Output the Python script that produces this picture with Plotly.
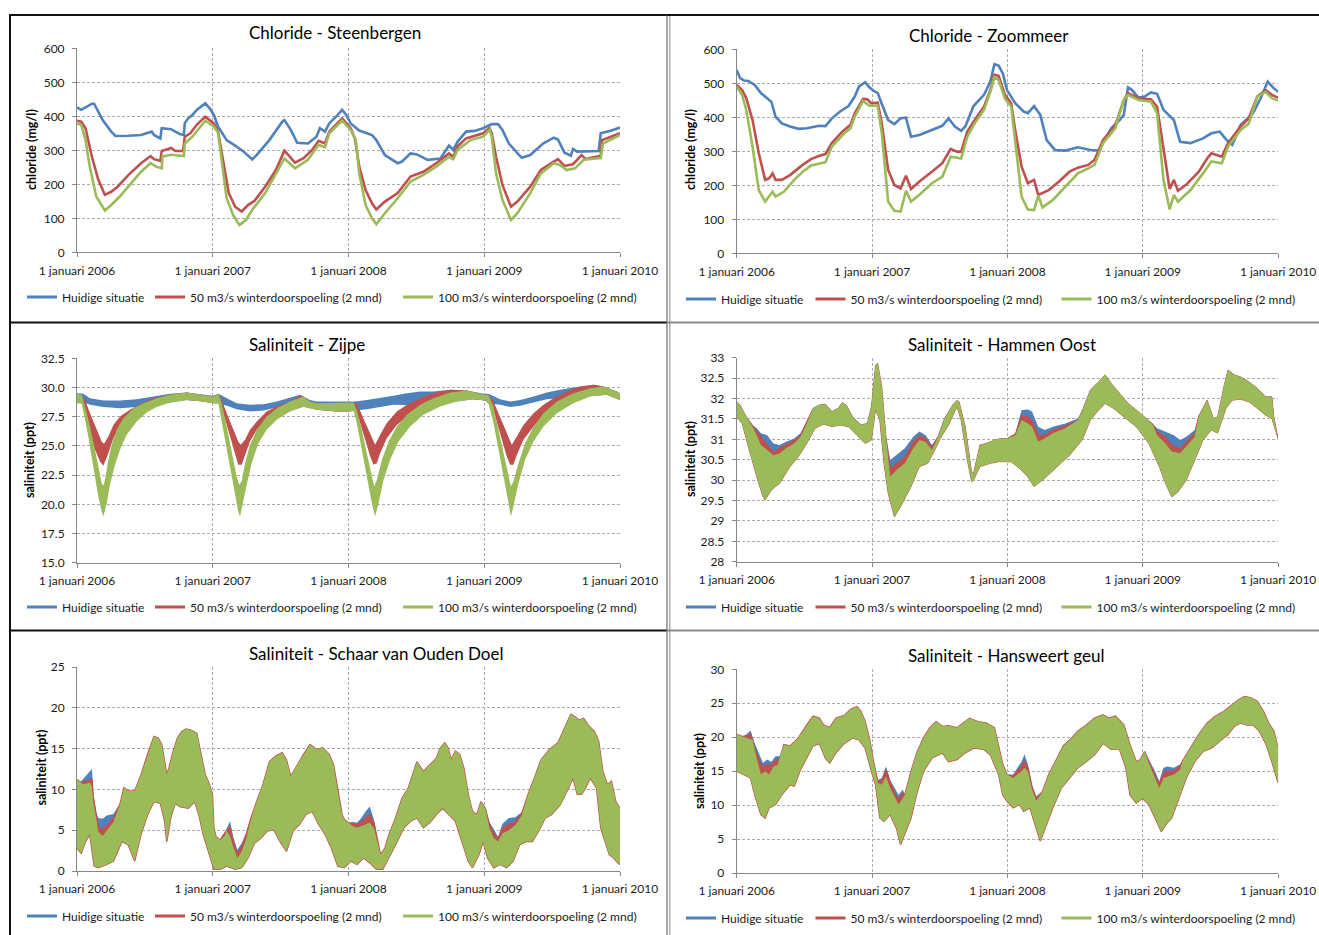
import plotly.graph_objects as go

W, H = 1319, 935
BLUE, RED, GREEN = "#4F81BD", "#C0504D", "#9BBB59"
FONT = "Lato, 'Open Sans', sans-serif"

SERIES_NAMES = ["Huidige situatie",
                "50 m3/s winterdoorspoeling (2 mnd)",
                "100 m3/s winterdoorspoeling (2 mnd)"]
YEAR_TICKS = [2006, 2007, 2008, 2009, 2010]
YEAR_LABELS = ["1 januari 2006", "1 januari 2007", "1 januari 2008",
               "1 januari 2009", "1 januari 2010"]

# ---------------- Chloride - Steenbergen (mg/l) [year, value] ----------------
ST_BLUE = [[2006.000, 426], [2006.031, 419], [2006.063, 426], [2006.110, 437], [2006.126, 437],
           [2006.189, 389], [2006.252, 355], [2006.283, 342], [2006.378, 343], [2006.472, 345],
           [2006.535, 353], [2006.551, 355], [2006.567, 345], [2006.614, 335], [2006.624, 365],
           [2006.693, 362], [2006.724, 355], [2006.756, 348], [2006.787, 345], [2006.794, 380],
           [2006.819, 394], [2006.850, 404], [2006.882, 419], [2006.945, 438], [2006.976, 424],
           [2007.008, 404], [2007.039, 370], [2007.102, 330], [2007.165, 314], [2007.228, 296],
           [2007.291, 273], [2007.323, 286], [2007.417, 330], [2007.512, 384], [2007.528, 389],
           [2007.575, 360], [2007.622, 322], [2007.701, 320], [2007.764, 340], [2007.789, 365],
           [2007.827, 355], [2007.858, 379], [2007.921, 404], [2007.953, 419], [2007.984, 404],
           [2008.016, 379], [2008.079, 358], [2008.173, 345], [2008.205, 330], [2008.268, 286],
           [2008.362, 262], [2008.394, 267], [2008.457, 291], [2008.504, 288], [2008.583, 272],
           [2008.677, 276], [2008.740, 314], [2008.772, 301], [2008.803, 325], [2008.866, 355],
           [2008.929, 357], [2008.992, 365], [2009.055, 377], [2009.102, 377], [2009.134, 360],
           [2009.181, 320], [2009.276, 278], [2009.339, 286], [2009.433, 320], [2009.512, 337],
           [2009.543, 332], [2009.591, 293], [2009.638, 284], [2009.654, 304], [2009.685, 296],
           [2009.843, 298], [2009.858, 350], [2009.937, 358], [2010.000, 367]]
ST_RED = [[2006.000, 387], [2006.031, 384], [2006.063, 365], [2006.110, 281], [2006.157, 213],
          [2006.205, 169], [2006.252, 178], [2006.299, 193], [2006.378, 227], [2006.472, 262],
          [2006.542, 283], [2006.567, 274], [2006.614, 269], [2006.624, 298], [2006.693, 307],
          [2006.724, 298], [2006.781, 298], [2006.794, 340], [2006.835, 350], [2006.882, 375],
          [2006.945, 399], [2007.008, 379], [2007.039, 355], [2007.071, 281], [2007.118, 174],
          [2007.165, 134], [2007.213, 120], [2007.260, 139], [2007.307, 151], [2007.386, 193],
          [2007.465, 242], [2007.528, 299], [2007.606, 264], [2007.669, 277], [2007.732, 301],
          [2007.780, 328], [2007.827, 320], [2007.858, 355], [2007.953, 394], [2008.016, 365],
          [2008.047, 335], [2008.079, 252], [2008.126, 183], [2008.173, 144], [2008.205, 126],
          [2008.268, 149], [2008.362, 174], [2008.457, 223], [2008.551, 237], [2008.646, 262],
          [2008.740, 291], [2008.772, 281], [2008.803, 311], [2008.866, 335], [2008.929, 343],
          [2008.992, 350], [2009.039, 365], [2009.055, 350], [2009.087, 281], [2009.134, 198],
          [2009.197, 134], [2009.244, 149], [2009.339, 193], [2009.417, 242], [2009.512, 267],
          [2009.543, 274], [2009.591, 254], [2009.654, 259], [2009.717, 286], [2009.748, 274],
          [2009.858, 284], [2009.868, 330], [2010.000, 350]]
ST_GREEN = [[2006.000, 379], [2006.031, 375], [2006.063, 330], [2006.094, 252], [2006.142, 164],
            [2006.205, 123], [2006.252, 139], [2006.315, 164], [2006.409, 208], [2006.472, 237],
            [2006.542, 262], [2006.583, 252], [2006.624, 247], [2006.630, 282], [2006.693, 287],
            [2006.787, 283], [2006.794, 320], [2006.850, 340], [2006.945, 387], [2007.008, 370],
            [2007.039, 352], [2007.071, 252], [2007.102, 159], [2007.150, 110], [2007.197, 80],
            [2007.244, 95], [2007.291, 125], [2007.386, 174], [2007.449, 218], [2007.528, 276],
            [2007.606, 247], [2007.701, 272], [2007.780, 316], [2007.827, 309], [2007.858, 350],
            [2007.953, 387], [2008.016, 360], [2008.054, 330], [2008.079, 232], [2008.126, 139],
            [2008.173, 100], [2008.205, 83], [2008.268, 115], [2008.362, 159], [2008.457, 208],
            [2008.551, 228], [2008.646, 252], [2008.740, 281], [2008.772, 274], [2008.803, 301],
            [2008.898, 330], [2008.992, 340], [2009.039, 360], [2009.055, 340], [2009.087, 232],
            [2009.134, 154], [2009.197, 95], [2009.244, 115], [2009.339, 174], [2009.417, 232],
            [2009.512, 262], [2009.559, 257], [2009.606, 242], [2009.669, 247], [2009.732, 272],
            [2009.858, 277], [2009.874, 320], [2010.000, 345]]

# ---------------- Chloride - Zoommeer (mg/l) ----------------
ZM_BLUE = [[2006.000, 539], [2006.025, 515], [2006.055, 508], [2006.086, 507], [2006.133, 495],
           [2006.179, 471], [2006.240, 451], [2006.256, 446], [2006.287, 402], [2006.333, 382],
           [2006.394, 373], [2006.456, 366], [2006.518, 368], [2006.610, 375], [2006.656, 374],
           [2006.703, 397], [2006.764, 417], [2006.826, 433], [2006.872, 461], [2006.903, 490],
           [2006.949, 503], [2006.980, 488], [2007.011, 478], [2007.042, 471], [2007.072, 439],
           [2007.119, 392], [2007.165, 380], [2007.211, 397], [2007.251, 399], [2007.288, 343],
           [2007.350, 348], [2007.442, 363], [2007.519, 375], [2007.565, 397], [2007.612, 373],
           [2007.658, 360], [2007.689, 373], [2007.750, 433], [2007.827, 466], [2007.874, 505],
           [2007.904, 556], [2007.935, 552], [2007.966, 529], [2007.997, 480], [2008.059, 441],
           [2008.120, 417], [2008.151, 412], [2008.197, 433], [2008.243, 407], [2008.290, 333],
           [2008.351, 304], [2008.428, 302], [2008.521, 312], [2008.613, 304], [2008.675, 302],
           [2008.706, 324], [2008.767, 368], [2008.829, 392], [2008.860, 407], [2008.891, 488],
           [2008.921, 480], [2008.968, 458], [2009.014, 461], [2009.060, 473], [2009.106, 469],
           [2009.153, 422], [2009.230, 392], [2009.276, 328], [2009.353, 324], [2009.445, 338],
           [2009.507, 353], [2009.569, 358], [2009.615, 335], [2009.661, 319], [2009.723, 377],
           [2009.815, 412], [2009.877, 461], [2009.923, 505], [2009.969, 485], [2010.000, 475]]
ZM_RED = [[2006.000, 495], [2006.040, 480], [2006.071, 456], [2006.117, 392], [2006.163, 294],
          [2006.210, 216], [2006.240, 221], [2006.265, 235], [2006.287, 216], [2006.333, 216],
          [2006.394, 230], [2006.487, 260], [2006.549, 277], [2006.610, 287], [2006.656, 292],
          [2006.703, 324], [2006.780, 358], [2006.841, 378], [2006.872, 412], [2006.934, 454],
          [2006.965, 453], [2006.995, 441], [2007.042, 443], [2007.072, 382], [2007.119, 245],
          [2007.165, 201], [2007.211, 191], [2007.251, 228], [2007.288, 189], [2007.350, 211],
          [2007.442, 240], [2007.519, 265], [2007.581, 307], [2007.627, 299], [2007.658, 299],
          [2007.704, 358], [2007.750, 387], [2007.827, 431], [2007.874, 480], [2007.904, 525],
          [2007.935, 522], [2007.982, 466], [2008.028, 441], [2008.059, 358], [2008.105, 255],
          [2008.151, 206], [2008.197, 216], [2008.228, 172], [2008.305, 186], [2008.382, 211],
          [2008.459, 240], [2008.521, 252], [2008.598, 260], [2008.644, 275], [2008.706, 333],
          [2008.798, 377], [2008.860, 451], [2008.891, 471], [2008.968, 456], [2009.060, 453],
          [2009.106, 431], [2009.153, 304], [2009.199, 189], [2009.230, 216], [2009.260, 184],
          [2009.322, 202], [2009.414, 240], [2009.476, 279], [2009.507, 294], [2009.584, 284],
          [2009.630, 324], [2009.723, 373], [2009.784, 397], [2009.846, 461], [2009.908, 480],
          [2009.954, 466], [2010.000, 458]]
ZM_GREEN = [[2006.000, 490], [2006.040, 466], [2006.071, 421], [2006.117, 314], [2006.163, 186],
            [2006.210, 152], [2006.265, 181], [2006.287, 167], [2006.348, 181], [2006.425, 216],
            [2006.487, 240], [2006.549, 258], [2006.656, 268], [2006.703, 314], [2006.795, 353],
            [2006.841, 368], [2006.872, 402], [2006.934, 448], [2006.980, 434], [2007.042, 434],
            [2007.072, 353], [2007.119, 152], [2007.165, 125], [2007.211, 123], [2007.251, 184],
            [2007.288, 152], [2007.350, 172], [2007.442, 206], [2007.519, 225], [2007.581, 284],
            [2007.658, 279], [2007.704, 343], [2007.750, 377], [2007.827, 422], [2007.874, 475],
            [2007.904, 518], [2007.935, 510], [2007.982, 455], [2008.028, 431], [2008.059, 324],
            [2008.105, 167], [2008.151, 129], [2008.197, 127], [2008.228, 170], [2008.259, 135],
            [2008.336, 157], [2008.428, 196], [2008.521, 235], [2008.598, 250], [2008.644, 260],
            [2008.706, 324], [2008.798, 368], [2008.860, 451], [2008.891, 466], [2008.968, 451],
            [2009.060, 446], [2009.106, 412], [2009.153, 216], [2009.199, 129], [2009.230, 172],
            [2009.260, 152], [2009.353, 186], [2009.445, 235], [2009.507, 270], [2009.584, 265],
            [2009.630, 314], [2009.723, 363], [2009.784, 382], [2009.846, 461], [2009.908, 475],
            [2009.954, 456], [2010.000, 449]]

# ---------------- Saliniteit - Zijpe (ppt): band envelopes ----------------
ZIJ_BLUE_HI = [[2006.000, 29.51], [2006.047, 29.46], [2006.096, 29.09], [2006.194, 28.89], [2006.317, 28.89],
               [2006.440, 29.00], [2006.562, 29.23], [2006.685, 29.46], [2006.808, 29.57], [2006.931, 29.37],
               [2006.999, 29.30], [2007.041, 29.46], [2007.103, 29.09], [2007.176, 28.66], [2007.274, 28.52],
               [2007.373, 28.57], [2007.471, 28.80], [2007.569, 29.09], [2007.643, 29.37], [2007.716, 28.94],
               [2007.766, 28.80], [2007.913, 28.80], [2008.011, 28.80], [2008.049, 28.80], [2008.135, 28.94],
               [2008.233, 29.09], [2008.331, 29.29], [2008.430, 29.51], [2008.528, 29.66], [2008.626, 29.66],
               [2008.749, 29.80], [2008.872, 29.74], [2008.994, 29.46], [2009.031, 29.46], [2009.117, 29.00],
               [2009.191, 28.80], [2009.265, 28.94], [2009.363, 29.23], [2009.461, 29.57], [2009.559, 29.80],
               [2009.657, 30.00], [2009.805, 30.23], [2009.878, 30.09], [2009.977, 29.66], [2010.000, 29.46]]
ZIJ_BLUE_LO = [[2006.000, 28.66], [2006.047, 28.72], [2006.096, 28.52], [2006.194, 28.32], [2006.317, 28.23],
               [2006.440, 28.32], [2006.538, 28.43], [2006.685, 28.72], [2006.808, 28.94], [2006.931, 28.80],
               [2006.999, 28.66], [2007.041, 28.66], [2007.103, 28.43], [2007.176, 28.14], [2007.274, 27.95],
               [2007.373, 28.03], [2007.446, 28.23], [2007.569, 28.37], [2007.667, 28.37], [2007.766, 28.09],
               [2007.913, 27.95], [2008.011, 27.95], [2008.049, 28.03], [2008.135, 28.14], [2008.233, 28.32],
               [2008.331, 28.52], [2008.430, 28.50], [2008.552, 28.60], [2008.675, 28.70], [2008.798, 28.80],
               [2008.921, 29.00], [2009.007, 28.89], [2009.031, 28.66], [2009.117, 28.52], [2009.191, 28.32],
               [2009.265, 28.43], [2009.363, 28.72], [2009.461, 29.00], [2009.559, 29.10], [2009.707, 29.23],
               [2009.903, 29.37], [2010.000, 28.94]]
ZIJ_RED_HI = [[2006.000, 29.46], [2006.059, 28.94], [2006.096, 27.80], [2006.145, 26.38], [2006.182, 25.38],
              [2006.199, 25.18], [2006.231, 25.80], [2006.268, 26.80], [2006.317, 27.52], [2006.390, 28.09],
              [2006.464, 28.57], [2006.562, 29.09], [2006.685, 29.37], [2006.808, 29.57], [2006.931, 29.37],
              [2006.999, 29.23], [2007.041, 29.46], [2007.066, 28.94], [2007.103, 27.80], [2007.152, 26.38],
              [2007.188, 25.38], [2007.206, 25.09], [2007.238, 25.52], [2007.274, 26.38], [2007.324, 27.09],
              [2007.397, 27.95], [2007.471, 28.37], [2007.569, 28.80], [2007.643, 29.29], [2007.667, 29.23],
              [2007.716, 28.80], [2007.766, 28.66], [2007.913, 28.66], [2008.011, 28.66], [2008.037, 28.72],
              [2008.061, 28.66], [2008.098, 27.66], [2008.147, 26.38], [2008.184, 25.38], [2008.196, 25.09],
              [2008.233, 25.95], [2008.282, 26.95], [2008.356, 27.95], [2008.430, 28.52], [2008.528, 29.09],
              [2008.626, 29.51], [2008.749, 29.80], [2008.872, 29.74], [2008.994, 29.37], [2009.031, 29.37],
              [2009.068, 28.80], [2009.105, 27.80], [2009.154, 26.38], [2009.191, 25.38], [2009.203, 25.09],
              [2009.240, 25.80], [2009.289, 26.80], [2009.363, 27.80], [2009.436, 28.52], [2009.510, 29.09],
              [2009.608, 29.66], [2009.707, 30.09], [2009.805, 30.23], [2009.878, 30.09], [2009.977, 29.66],
              [2010.000, 29.46]]
ZIJ_RED_LO = [[2006.000, 28.66], [2006.047, 28.80], [2006.071, 27.23], [2006.096, 25.95], [2006.133, 24.66],
              [2006.169, 23.67], [2006.194, 23.29], [2006.206, 23.52], [2006.231, 24.38], [2006.268, 25.66],
              [2006.317, 26.66], [2006.366, 27.23], [2006.440, 27.95], [2006.538, 28.52], [2006.636, 28.89],
              [2006.808, 28.94], [2006.931, 28.80], [2006.999, 28.66], [2007.041, 28.66], [2007.053, 28.80],
              [2007.090, 27.23], [2007.127, 25.80], [2007.164, 24.38], [2007.188, 23.38], [2007.213, 23.38],
              [2007.238, 24.23], [2007.274, 25.38], [2007.324, 26.38], [2007.397, 27.23], [2007.471, 27.80],
              [2007.569, 28.37], [2007.667, 28.80], [2007.766, 28.09], [2007.913, 27.95], [2008.011, 27.95],
              [2008.049, 28.37], [2008.086, 26.95], [2008.123, 25.52], [2008.160, 24.09], [2008.184, 23.38],
              [2008.209, 23.52], [2008.233, 24.38], [2008.282, 25.66], [2008.356, 26.80], [2008.430, 27.52],
              [2008.528, 28.23], [2008.626, 28.66], [2008.724, 29.00], [2008.921, 29.00], [2009.007, 28.89],
              [2009.031, 28.66], [2009.056, 28.52], [2009.093, 26.95], [2009.130, 25.52], [2009.166, 24.09],
              [2009.191, 23.38], [2009.215, 23.38], [2009.240, 24.23], [2009.289, 25.52], [2009.363, 26.66],
              [2009.436, 27.52], [2009.510, 28.23], [2009.608, 28.80], [2009.707, 29.23], [2009.903, 29.37],
              [2010.000, 28.94]]
ZIJ_GREEN_HI = [[2006.000, 29.46], [2006.034, 29.37], [2006.059, 28.37], [2006.096, 26.66], [2006.133, 24.66],
                [2006.157, 23.24], [2006.182, 21.81], [2006.194, 21.58], [2006.206, 22.09], [2006.231, 23.81],
                [2006.255, 25.09], [2006.292, 26.38], [2006.341, 27.37], [2006.415, 28.23], [2006.489, 28.66],
                [2006.587, 29.09], [2006.685, 29.37], [2006.808, 29.57], [2006.931, 29.37], [2006.999, 29.23],
                [2007.041, 29.46], [2007.066, 28.66], [2007.103, 26.66], [2007.139, 24.38], [2007.176, 22.38],
                [2007.196, 21.67], [2007.213, 21.95], [2007.238, 23.52], [2007.274, 25.09], [2007.324, 26.38],
                [2007.397, 27.52], [2007.471, 28.23], [2007.569, 28.80], [2007.667, 29.23], [2007.716, 28.80],
                [2007.766, 28.66], [2007.913, 28.66], [2008.011, 28.66], [2008.037, 28.72], [2008.061, 28.09],
                [2008.098, 26.38], [2008.135, 24.38], [2008.172, 22.38], [2008.189, 21.52], [2008.209, 22.09],
                [2008.246, 23.81], [2008.295, 25.38], [2008.356, 26.66], [2008.430, 27.66], [2008.528, 28.52],
                [2008.626, 29.09], [2008.749, 29.57], [2008.872, 29.74], [2008.994, 29.37], [2009.031, 29.37],
                [2009.068, 28.37], [2009.105, 26.38], [2009.142, 24.38], [2009.179, 22.38], [2009.196, 21.52],
                [2009.215, 21.95], [2009.252, 23.52], [2009.301, 25.23], [2009.363, 26.66], [2009.436, 27.80],
                [2009.535, 28.80], [2009.657, 29.51], [2009.780, 29.94], [2009.878, 30.09], [2009.977, 29.66],
                [2010.000, 29.46]]
ZIJ_GREEN_LO = [[2006.000, 28.66], [2006.034, 28.60], [2006.059, 27.23], [2006.083, 25.80], [2006.108, 24.09],
                [2006.133, 22.38], [2006.157, 20.67], [2006.182, 19.38], [2006.194, 18.95], [2006.219, 20.10],
                [2006.243, 21.67], [2006.280, 23.38], [2006.317, 24.66], [2006.366, 25.95], [2006.440, 27.09],
                [2006.513, 27.86], [2006.587, 28.32], [2006.685, 28.72], [2006.808, 28.94], [2006.931, 28.80],
                [2006.999, 28.66], [2007.041, 28.66], [2007.066, 27.23], [2007.090, 25.52], [2007.127, 23.24],
                [2007.164, 20.95], [2007.188, 19.38], [2007.201, 18.95], [2007.225, 20.10], [2007.250, 21.67],
                [2007.287, 23.52], [2007.336, 25.23], [2007.397, 26.38], [2007.471, 27.23], [2007.569, 27.95],
                [2007.667, 28.32], [2007.766, 28.09], [2007.913, 27.95], [2008.011, 27.95], [2008.037, 28.03],
                [2008.061, 26.95], [2008.098, 24.66], [2008.135, 22.38], [2008.172, 20.10], [2008.196, 18.95],
                [2008.221, 20.10], [2008.258, 22.09], [2008.307, 23.81], [2008.368, 25.38], [2008.454, 26.66],
                [2008.552, 27.66], [2008.675, 28.37], [2008.798, 28.80], [2008.921, 29.00], [2009.007, 28.89],
                [2009.031, 28.66], [2009.068, 26.95], [2009.105, 24.66], [2009.142, 22.38], [2009.179, 20.10],
                [2009.196, 18.95], [2009.215, 19.81], [2009.252, 21.81], [2009.301, 23.81], [2009.363, 25.38],
                [2009.436, 26.66], [2009.535, 27.80], [2009.657, 28.66], [2009.780, 29.23], [2009.903, 29.37],
                [2010.000, 28.94]]

# ---------------- Saliniteit - Hammen Oost (ppt) ----------------
HO_GREEN_HI = [[2006.000, 31.92], [2006.025, 31.84], [2006.071, 31.55], [2006.117, 31.31], [2006.148, 31.10],
               [2006.179, 30.86], [2006.225, 30.74], [2006.271, 30.61], [2006.317, 30.66], [2006.364, 30.78],
               [2006.425, 30.90], [2006.471, 31.06], [2006.518, 31.39], [2006.564, 31.76], [2006.610, 31.84],
               [2006.656, 31.86], [2006.703, 31.68], [2006.749, 31.76], [2006.780, 31.90], [2006.810, 31.84],
               [2006.857, 31.55], [2006.918, 31.35], [2006.965, 31.39], [2006.995, 31.80], [2007.026, 32.82],
               [2007.042, 32.86], [2007.072, 32.29], [2007.103, 31.06], [2007.134, 30.08], [2007.180, 30.25],
               [2007.242, 30.41], [2007.304, 30.78], [2007.350, 30.98], [2007.396, 30.94], [2007.442, 30.74],
               [2007.488, 31.06], [2007.535, 31.51], [2007.596, 31.84], [2007.627, 31.95], [2007.643, 31.92],
               [2007.689, 31.31], [2007.735, 30.21], [2007.750, 30.17], [2007.797, 30.86], [2007.843, 30.90],
               [2007.904, 30.98], [2007.951, 31.02], [2007.997, 31.02], [2008.059, 31.10], [2008.105, 31.47],
               [2008.151, 31.39], [2008.182, 31.31], [2008.228, 30.94], [2008.274, 31.02], [2008.336, 31.15],
               [2008.428, 31.27], [2008.521, 31.47], [2008.552, 31.68], [2008.613, 32.21], [2008.675, 32.41],
               [2008.721, 32.58], [2008.767, 32.37], [2008.829, 32.13], [2008.891, 31.88], [2008.952, 31.72],
               [2009.014, 31.55], [2009.076, 31.35], [2009.106, 31.10], [2009.168, 30.90], [2009.214, 30.70],
               [2009.276, 30.66], [2009.322, 30.82], [2009.384, 31.06], [2009.414, 31.55], [2009.476, 31.96],
               [2009.522, 31.51], [2009.553, 31.55], [2009.599, 32.29], [2009.630, 32.70], [2009.676, 32.58],
               [2009.723, 32.53], [2009.784, 32.41], [2009.846, 32.25], [2009.908, 32.04], [2009.954, 32.04],
               [2009.969, 31.55], [2010.000, 31.06]]
HO_GREEN_LO = [[2006.000, 31.55], [2006.040, 31.39], [2006.086, 30.82], [2006.148, 30.08], [2006.194, 29.59],
               [2006.210, 29.51], [2006.256, 29.76], [2006.317, 29.92], [2006.394, 30.33], [2006.456, 30.57],
               [2006.518, 30.90], [2006.579, 31.27], [2006.641, 31.37], [2006.703, 31.31], [2006.764, 31.35],
               [2006.826, 31.31], [2006.888, 31.10], [2006.949, 30.90], [2006.995, 30.98], [2007.026, 31.72],
               [2007.057, 31.47], [2007.088, 30.41], [2007.119, 29.67], [2007.165, 29.10], [2007.211, 29.35],
               [2007.288, 29.84], [2007.350, 30.33], [2007.411, 30.41], [2007.458, 30.70], [2007.504, 31.02],
               [2007.565, 31.35], [2007.627, 31.80], [2007.658, 31.47], [2007.704, 30.49], [2007.735, 29.96],
               [2007.750, 30.00], [2007.797, 30.33], [2007.874, 30.41], [2007.935, 30.45], [2008.028, 30.45],
               [2008.089, 30.29], [2008.151, 30.08], [2008.197, 29.84], [2008.274, 30.04], [2008.367, 30.33],
               [2008.459, 30.61], [2008.552, 30.98], [2008.613, 31.47], [2008.675, 31.72], [2008.721, 31.88],
               [2008.783, 31.76], [2008.860, 31.55], [2008.952, 31.31], [2009.045, 30.90], [2009.122, 30.33],
               [2009.168, 29.92], [2009.214, 29.59], [2009.260, 29.71], [2009.322, 30.00], [2009.384, 30.49],
               [2009.445, 30.98], [2009.507, 31.23], [2009.553, 31.15], [2009.615, 31.76], [2009.661, 31.96],
               [2009.723, 31.98], [2009.784, 31.92], [2009.846, 31.76], [2009.908, 31.59], [2009.954, 31.51],
               [2010.000, 31.02]]
HO_RED_PEAKS = [
    [[2006.117, 31.33], [2006.148, 31.19], [2006.179, 31.06], [2006.225, 30.88], [2006.271, 30.70],
     [2006.317, 30.78], [2006.364, 30.86], [2006.425, 30.98], [2006.471, 31.10], [2006.518, 31.43]],
    [[2007.134, 30.29], [2007.180, 30.41], [2007.242, 30.57], [2007.304, 30.94], [2007.350, 31.10],
     [2007.396, 31.02], [2007.442, 30.82], [2007.488, 31.07]],
    [[2008.059, 31.13], [2008.105, 31.59], [2008.151, 31.55], [2008.182, 31.47], [2008.228, 31.10],
     [2008.274, 31.10], [2008.336, 31.23], [2008.428, 31.33], [2008.521, 31.47], [2008.552, 31.69]],
    [[2009.076, 31.37], [2009.106, 31.19], [2009.168, 31.06], [2009.214, 30.86], [2009.276, 30.78],
     [2009.322, 30.94], [2009.384, 31.15], [2009.414, 31.57]]]
HO_BLUE_PEAKS = [
    [[2006.117, 31.35], [2006.148, 31.27], [2006.179, 31.15], [2006.225, 31.10], [2006.271, 30.90],
     [2006.317, 30.86], [2006.364, 30.94], [2006.425, 31.02], [2006.471, 31.15], [2006.518, 31.45]],
    [[2007.134, 30.49], [2007.180, 30.61], [2007.242, 30.78], [2007.304, 31.06], [2007.350, 31.19],
     [2007.396, 31.10], [2007.442, 30.86], [2007.488, 31.08]],
    [[2008.059, 31.15], [2008.105, 31.72], [2008.151, 31.73], [2008.182, 31.68], [2008.228, 31.31],
     [2008.274, 31.23], [2008.336, 31.31], [2008.428, 31.39], [2008.521, 31.51], [2008.552, 31.70]],
    [[2009.076, 31.37], [2009.106, 31.27], [2009.168, 31.19], [2009.230, 31.10], [2009.276, 30.98],
     [2009.322, 31.06], [2009.384, 31.23], [2009.414, 31.58]]]

# ---------------- Saliniteit - Schaar van Ouden Doel (ppt) ----------------
SOD_GREEN_HI = [[2006.000, 11.2], [2006.016, 11.0], [2006.047, 10.6], [2006.063, 10.7], [2006.094, 10.8],
                [2006.110, 10.4], [2006.120, 8.5], [2006.142, 6.4], [2006.157, 4.8], [2006.189, 4.3],
                [2006.220, 5.0], [2006.268, 6.0], [2006.315, 8.1], [2006.346, 10.2], [2006.378, 9.8],
                [2006.425, 9.8], [2006.472, 11.8], [2006.520, 14.3], [2006.567, 16.5], [2006.598, 16.3],
                [2006.624, 15.5], [2006.646, 13.4], [2006.661, 11.8], [2006.677, 12.6], [2006.709, 14.7],
                [2006.740, 16.3], [2006.772, 17.1], [2006.803, 17.4], [2006.835, 17.3], [2006.882, 16.9],
                [2006.913, 14.3], [2006.945, 11.8], [2006.976, 10.6], [2006.998, 9.4], [2007.008, 5.3],
                [2007.024, 4.2], [2007.055, 3.8], [2007.087, 4.3], [2007.102, 5.0], [2007.128, 4.2],
                [2007.150, 3.0], [2007.181, 1.6], [2007.213, 2.4], [2007.244, 3.8], [2007.276, 6.0],
                [2007.323, 8.5], [2007.370, 10.6], [2007.417, 13.4], [2007.465, 14.1], [2007.512, 14.5],
                [2007.543, 13.6], [2007.575, 11.6], [2007.622, 13.0], [2007.669, 14.3], [2007.717, 15.5],
                [2007.764, 14.9], [2007.811, 15.1], [2007.858, 14.3], [2007.890, 13.0], [2007.921, 9.8],
                [2007.953, 6.9], [2007.969, 6.3], [2008.000, 5.9], [2008.031, 5.5], [2008.063, 5.3],
                [2008.094, 5.5], [2008.126, 5.7], [2008.157, 5.9], [2008.189, 5.2], [2008.211, 3.6],
                [2008.236, 2.0], [2008.268, 2.8], [2008.299, 4.5], [2008.346, 6.5], [2008.394, 8.9],
                [2008.441, 10.2], [2008.472, 11.8], [2008.504, 13.4], [2008.551, 12.2], [2008.598, 13.0],
                [2008.646, 13.8], [2008.677, 15.1], [2008.709, 15.7], [2008.734, 15.1], [2008.756, 13.6],
                [2008.787, 14.7], [2008.819, 14.3], [2008.850, 12.6], [2008.882, 9.4], [2008.913, 7.3],
                [2008.945, 6.9], [2008.976, 8.5], [2009.008, 7.7], [2009.039, 5.2], [2009.071, 4.0],
                [2009.102, 3.6], [2009.134, 4.6], [2009.181, 5.0], [2009.228, 5.6], [2009.276, 6.8],
                [2009.323, 9.4], [2009.370, 11.4], [2009.417, 13.6], [2009.480, 14.9], [2009.543, 15.7],
                [2009.591, 17.5], [2009.638, 19.2], [2009.669, 18.9], [2009.701, 18.5], [2009.732, 18.7],
                [2009.764, 17.9], [2009.811, 17.1], [2009.843, 15.9], [2009.874, 12.2], [2009.906, 10.6],
                [2009.937, 11.0], [2009.969, 8.5], [2010.000, 7.7]]
SOD_GREEN_LO = [[2006.000, 2.8], [2006.031, 2.2], [2006.063, 3.6], [2006.094, 4.5], [2006.110, 2.8],
                [2006.126, 0.6], [2006.157, 0.4], [2006.220, 0.8], [2006.268, 1.2], [2006.331, 3.6],
                [2006.378, 3.2], [2006.425, 1.2], [2006.472, 4.5], [2006.520, 6.9], [2006.567, 8.5],
                [2006.614, 8.3], [2006.646, 6.1], [2006.661, 3.6], [2006.693, 6.7], [2006.724, 8.3],
                [2006.756, 7.9], [2006.819, 7.7], [2006.866, 8.5], [2006.898, 6.9], [2006.929, 4.5],
                [2006.976, 2.0], [2007.008, 0.2], [2007.055, 0.2], [2007.102, 0.6], [2007.165, 0.2],
                [2007.213, 0.4], [2007.260, 1.6], [2007.307, 3.4], [2007.354, 4.0], [2007.402, 4.9],
                [2007.449, 5.1], [2007.496, 3.6], [2007.543, 2.4], [2007.591, 4.9], [2007.638, 5.7],
                [2007.685, 6.9], [2007.732, 7.3], [2007.780, 5.7], [2007.827, 4.5], [2007.874, 2.8],
                [2007.921, 0.6], [2007.969, 0.4], [2008.016, 1.2], [2008.063, 0.8], [2008.110, 1.6],
                [2008.157, 1.0], [2008.205, 0.2], [2008.252, 0.2], [2008.299, 1.6], [2008.346, 3.2],
                [2008.409, 5.3], [2008.457, 6.1], [2008.504, 6.5], [2008.551, 5.3], [2008.598, 5.9],
                [2008.646, 6.9], [2008.693, 7.7], [2008.740, 6.9], [2008.787, 6.1], [2008.835, 3.6],
                [2008.882, 1.2], [2008.913, 0.4], [2008.961, 2.0], [2008.992, 3.6], [2009.024, 1.6],
                [2009.071, 0.4], [2009.118, 0.8], [2009.165, 0.4], [2009.213, 1.2], [2009.260, 3.2],
                [2009.307, 3.6], [2009.354, 3.6], [2009.402, 4.9], [2009.449, 6.5], [2009.496, 6.9],
                [2009.559, 8.1], [2009.622, 10.2], [2009.654, 11.4], [2009.685, 9.4], [2009.717, 9.4],
                [2009.748, 10.2], [2009.780, 11.4], [2009.827, 10.2], [2009.858, 5.3], [2009.890, 3.6],
                [2009.921, 2.0], [2009.953, 1.6], [2009.984, 1.0], [2010.000, 0.8]]
SOD_RED_PEAKS = [
    [[2006.031, 10.8], [2006.063, 11.0], [2006.094, 11.1], [2006.110, 11.3], [2006.120, 9.0]],
    [[2006.142, 6.8], [2006.157, 5.4], [2006.189, 5.0], [2006.220, 5.6], [2006.268, 6.4], [2006.300, 7.6]],
    [[2007.087, 4.6], [2007.128, 5.4], [2007.150, 3.7], [2007.181, 2.1], [2007.213, 2.9], [2007.244, 4.3],
     [2007.276, 6.2]],
    [[2008.031, 5.8], [2008.063, 5.7], [2008.094, 6.0], [2008.126, 6.5], [2008.157, 6.9], [2008.189, 5.8],
     [2008.211, 3.8]],
    [[2009.039, 5.6], [2009.071, 4.6], [2009.102, 3.9], [2009.134, 5.2], [2009.181, 5.7], [2009.228, 6.0],
     [2009.276, 7.0]]]
SOD_BLUE_PEAKS = [
    [[2006.031, 11.0], [2006.063, 11.6], [2006.094, 12.2], [2006.110, 12.5], [2006.120, 9.5]],
    [[2006.142, 7.2], [2006.157, 6.5], [2006.189, 6.4], [2006.220, 6.8], [2006.268, 7.0], [2006.300, 7.8]],
    [[2007.087, 4.7], [2007.128, 6.1], [2007.150, 4.2], [2007.181, 2.6], [2007.213, 3.4], [2007.244, 4.6],
     [2007.276, 6.3]],
    [[2008.031, 6.0], [2008.063, 5.9], [2008.094, 6.5], [2008.126, 7.3], [2008.157, 7.9], [2008.189, 6.2],
     [2008.211, 4.0]],
    [[2009.039, 6.0], [2009.071, 5.0], [2009.102, 4.2], [2009.134, 5.8], [2009.181, 6.5], [2009.228, 6.6],
     [2009.276, 7.2]]]

# ---------------- Saliniteit - Hansweert geul (ppt) ----------------
HW_GREEN_HI = [[2006.000, 20.4], [2006.040, 20.1], [2006.071, 19.9], [2006.117, 19.6], [2006.148, 16.9],
               [2006.179, 14.5], [2006.210, 15.0], [2006.240, 14.5], [2006.271, 15.7], [2006.302, 15.9],
               [2006.348, 18.9], [2006.394, 18.7], [2006.456, 19.9], [2006.518, 21.8], [2006.564, 23.1],
               [2006.610, 22.8], [2006.641, 21.8], [2006.687, 21.4], [2006.733, 22.8], [2006.795, 23.2],
               [2006.841, 24.1], [2006.888, 24.5], [2006.918, 23.8], [2006.949, 22.3], [2006.980, 19.9],
               [2007.011, 16.4], [2007.042, 13.3], [2007.072, 13.0], [2007.103, 14.2], [2007.134, 12.5],
               [2007.165, 11.3], [2007.196, 10.1], [2007.242, 11.5], [2007.288, 15.0], [2007.334, 17.9],
               [2007.381, 19.9], [2007.427, 21.4], [2007.473, 22.3], [2007.519, 21.6], [2007.565, 21.7],
               [2007.627, 21.4], [2007.673, 22.1], [2007.720, 22.8], [2007.781, 22.3], [2007.843, 22.1],
               [2007.904, 21.4], [2007.935, 18.9], [2007.966, 16.0], [2007.997, 14.5], [2008.043, 14.0],
               [2008.074, 14.5], [2008.105, 15.0], [2008.126, 15.5], [2008.151, 15.0], [2008.182, 12.3],
               [2008.213, 10.6], [2008.259, 12.0], [2008.305, 14.5], [2008.367, 16.9], [2008.413, 18.7],
               [2008.475, 19.9], [2008.521, 20.9], [2008.582, 21.8], [2008.644, 22.8], [2008.706, 23.3],
               [2008.752, 22.8], [2008.798, 23.1], [2008.860, 21.8], [2008.906, 18.9], [2008.952, 16.4],
               [2008.983, 16.7], [2009.014, 17.9], [2009.045, 16.2], [2009.091, 14.0], [2009.122, 12.5],
               [2009.153, 14.0], [2009.183, 14.2], [2009.230, 14.5], [2009.276, 15.2], [2009.291, 16.4],
               [2009.353, 18.4], [2009.414, 20.4], [2009.476, 22.1], [2009.538, 23.1], [2009.599, 23.8],
               [2009.661, 24.8], [2009.707, 25.5], [2009.753, 26.0], [2009.800, 25.8], [2009.846, 25.3],
               [2009.892, 23.8], [2009.938, 21.8], [2009.969, 20.9], [2010.000, 18.4]]
HW_GREEN_LO = [[2006.000, 15.0], [2006.055, 14.5], [2006.102, 14.0], [2006.133, 11.5], [2006.179, 8.6],
               [2006.210, 8.1], [2006.240, 9.6], [2006.287, 10.1], [2006.333, 11.5], [2006.394, 13.0],
               [2006.425, 12.8], [2006.471, 15.2], [2006.518, 16.9], [2006.564, 18.7], [2006.610, 19.1],
               [2006.656, 16.9], [2006.687, 16.2], [2006.733, 17.7], [2006.795, 19.1], [2006.857, 19.9],
               [2006.903, 19.6], [2006.949, 18.4], [2006.995, 15.0], [2007.026, 13.0], [2007.057, 8.1],
               [2007.088, 7.6], [2007.134, 8.6], [2007.180, 6.6], [2007.211, 4.2], [2007.242, 5.6],
               [2007.288, 8.1], [2007.334, 12.0], [2007.381, 15.0], [2007.442, 16.9], [2007.519, 17.7],
               [2007.565, 16.4], [2007.627, 16.7], [2007.689, 17.7], [2007.750, 18.4], [2007.827, 18.2],
               [2007.874, 17.4], [2007.935, 14.5], [2007.966, 11.5], [2007.997, 10.6], [2008.043, 9.6],
               [2008.089, 10.1], [2008.120, 9.1], [2008.166, 9.6], [2008.213, 6.6], [2008.243, 4.7],
               [2008.290, 7.1], [2008.336, 9.6], [2008.398, 12.5], [2008.459, 14.0], [2008.521, 15.5],
               [2008.582, 16.4], [2008.644, 17.4], [2008.706, 19.1], [2008.767, 18.2], [2008.829, 18.2],
               [2008.875, 15.5], [2008.906, 11.5], [2008.952, 10.3], [2008.998, 11.0], [2009.045, 10.1],
               [2009.091, 8.1], [2009.137, 6.1], [2009.168, 7.1], [2009.214, 8.1], [2009.260, 10.6],
               [2009.322, 14.0], [2009.384, 16.4], [2009.445, 17.9], [2009.507, 18.4], [2009.569, 19.4],
               [2009.630, 20.4], [2009.676, 21.6], [2009.723, 22.1], [2009.769, 21.8], [2009.815, 21.8],
               [2009.861, 20.9], [2009.908, 19.1], [2009.954, 16.4], [2010.000, 13.3]]
HW_RED_PEAKS = [
    [[2006.071, 20.1], [2006.102, 20.5], [2006.133, 18.4], [2006.163, 16.7], [2006.194, 15.5],
     [2006.225, 16.0], [2006.256, 15.7], [2006.287, 16.7], [2006.317, 16.5]],
    [[2007.042, 13.5], [2007.072, 13.5], [2007.103, 15.2], [2007.134, 13.3], [2007.165, 11.8],
     [2007.196, 10.8], [2007.227, 11.8]],
    [[2008.043, 14.2], [2008.074, 15.0], [2008.105, 15.7], [2008.126, 16.5], [2008.151, 15.5],
     [2008.182, 12.6], [2008.213, 10.9]],
    [[2009.045, 16.4], [2009.091, 14.5], [2009.122, 13.0], [2009.153, 14.7], [2009.183, 15.0],
     [2009.230, 15.0], [2009.276, 15.7]]]
HW_BLUE_PEAKS = [
    [[2006.071, 20.4], [2006.102, 21.0], [2006.133, 19.1], [2006.163, 17.7], [2006.194, 16.2],
     [2006.225, 16.7], [2006.256, 16.4], [2006.287, 17.2], [2006.317, 17.2]],
    [[2007.042, 13.7], [2007.072, 14.0], [2007.103, 15.7], [2007.134, 13.7], [2007.165, 12.5],
     [2007.196, 11.5], [2007.227, 12.3]],
    [[2008.043, 14.5], [2008.074, 15.5], [2008.105, 16.4], [2008.126, 17.5], [2008.151, 16.0],
     [2008.182, 13.0], [2008.213, 11.3]],
    [[2009.045, 16.7], [2009.091, 15.0], [2009.122, 13.5], [2009.153, 15.5], [2009.183, 15.7],
     [2009.230, 15.5], [2009.276, 16.0]]]


# ---------------- helpers ----------------
def px(x):
    return x / W


def py(y):
    return 1 - y / H


def xs(pts):
    return [p[0] for p in pts]


def ys(pts):
    return [p[1] for p in pts]


def with_peaks(base, peaks):
    """Upper envelope that equals `base` except where the series' own readings rise above it."""
    pts = list(base)
    for ep in peaks:
        a, b = ep[0][0], ep[-1][0]
        pts = [p for p in pts if p[0] < a or p[0] > b] + list(ep)
    return sorted(pts)


fig = go.Figure()


def ax_ref(i):
    return ("x" if i == 1 else f"x{i}"), ("y" if i == 1 else f"y{i}")


def add_line(i, pts, color):
    xa, ya = ax_ref(i)
    fig.add_trace(go.Scatter(x=xs(pts), y=ys(pts), mode="lines", line=dict(color=color, width=2.6),
                             xaxis=xa, yaxis=ya, showlegend=False, hoverinfo="skip"))


def add_band(i, upper, lower, color, edge=None, edge_w=0):
    xa, ya = ax_ref(i)
    fig.add_trace(go.Scatter(x=xs(upper) + xs(lower)[::-1], y=ys(upper) + ys(lower)[::-1],
                             fill="toself", fillcolor=color, mode="lines",
                             line=dict(color=edge or color, width=edge_w),
                             xaxis=xa, yaxis=ya, showlegend=False, hoverinfo="skip"))


# Panels 1, 2: lines
add_line(1, ST_BLUE, BLUE); add_line(1, ST_RED, RED); add_line(1, ST_GREEN, GREEN)
add_line(2, ZM_BLUE, BLUE); add_line(2, ZM_RED, RED); add_line(2, ZM_GREEN, GREEN)

# Panel 3: Zijpe bands
add_band(3, ZIJ_BLUE_HI, ZIJ_BLUE_LO, BLUE)
add_band(3, ZIJ_RED_HI, ZIJ_RED_LO, RED)
add_band(3, ZIJ_GREEN_HI, ZIJ_GREEN_LO, GREEN)

# Panels 4-6: bands where the green covers most of the other two
for i, ghi, glo, rpk, bpk, ew in [(4, HO_GREEN_HI, HO_GREEN_LO, HO_RED_PEAKS, HO_BLUE_PEAKS, 0.8),
                                  (5, SOD_GREEN_HI, SOD_GREEN_LO, SOD_RED_PEAKS, SOD_BLUE_PEAKS, 1.4),
                                  (6, HW_GREEN_HI, HW_GREEN_LO, HW_RED_PEAKS, HW_BLUE_PEAKS, 1.4)]:
    add_band(i, with_peaks(ghi, bpk), glo, BLUE)
    add_band(i, with_peaks(ghi, rpk), glo, RED, RED, ew)
    add_band(i, ghi, glo, GREEN)

# ---------------- layout ----------------
XL = (77, 620)        # left column plot area, pixels
XR = (736.7, 1278.1)  # right column plot area, pixels
LEG_L = (22, 150, 398)
LEG_R = (681, 810.5, 1056.5)
PANELS = [
    dict(title="Chloride - Steenbergen", ytitle="chloride (mg/l)", yr=[0, 600], dt=100, fmt="",
         area=XL + (48.3, 252.3), tpos=(247, 33), ypos=(32, 150), legx=LEG_L, legy=297),
    dict(title="Chloride - Zoommeer", ytitle="chloride (mg/l)", yr=[0, 600], dt=100, fmt="",
         area=XR + (49.3, 253.3), tpos=(907, 35), ypos=(691, 150), legx=LEG_R, legy=299),
    dict(title="Saliniteit - Zijpe", ytitle="saliniteit (ppt)", yr=[15, 32.5], dt=2.5, fmt=".1f",
         area=XL + (358.3, 562.7), tpos=(247, 344), ypos=(30, 460), legx=LEG_L, legy=607),
    dict(title="Saliniteit - Hammen Oost", ytitle="saliniteit (ppt)", yr=[28, 33], dt=0.5, fmt="",
         area=XR + (357.7, 561.7), tpos=(906, 344), ypos=(690, 459), legx=LEG_R, legy=607),
    dict(title="Saliniteit - Schaar van Ouden Doel", ytitle="saliniteit (ppt)", yr=[0, 25], dt=5, fmt="",
         area=XL + (667, 871), tpos=(247, 653), ypos=(40.6, 768), legx=LEG_L, legy=916),
    dict(title="Saliniteit - Hansweert geul", ytitle="saliniteit (ppt)", yr=[0, 30], dt=5, fmt="",
         area=XR + (669.3, 873), tpos=(906, 655), ypos=(699, 771), legx=LEG_R, legy=918),
]

GRID = dict(showgrid=True, gridcolor="#ababab", gridwidth=1, griddash="3px,2px",
            showline=True, linecolor="#868686", linewidth=1, ticks="outside", ticklen=4,
            tickcolor="#868686", zeroline=False, fixedrange=True,
            tickfont=dict(family=FONT, size=12, color="#1a1a1a"))

layout = dict(width=W, height=H, margin=dict(l=0, r=0, t=0, b=0, autoexpand=False),
              paper_bgcolor="white", plot_bgcolor="white", showlegend=True,
              font=dict(family=FONT, color="#1a1a1a"))
annotations = []
leg_n = 0
for k, p in enumerate(PANELS, start=1):
    x0, x1, yt, yb = p["area"]
    sx = "" if k == 1 else str(k)
    layout["xaxis" + sx] = dict(domain=[px(x0), px(x1)], range=[2006, 2010], tickmode="array",
                               tickvals=YEAR_TICKS, ticktext=YEAR_LABELS, anchor="y" + sx,
                               ticklabelstandoff=3, **GRID)
    layout["yaxis" + sx] = dict(domain=[py(yb), py(yt)], range=p["yr"], tick0=p["yr"][0], dtick=p["dt"],
                               tickformat=p["fmt"], anchor="x" + sx, ticklabelstandoff=5, **GRID)
    annotations.append(dict(text=p["title"], x=px(p["tpos"][0]), y=py(p["tpos"][1]), xref="paper",
                            yref="paper", xanchor="left", yanchor="middle", showarrow=False,
                            font=dict(family=FONT, size=17, color="#000")))
    annotations.append(dict(text=p["ytitle"], x=px(p["ypos"][0]), y=py(p["ypos"][1]), xref="paper",
                            yref="paper", xanchor="center", yanchor="middle", showarrow=False,
                            textangle=-90, font=dict(family=FONT, size=12.5, color="#000", weight="bold")))
    # one legend entry per series, placed where the chart's own legend shows it
    for name, col, lx in zip(SERIES_NAMES, [BLUE, RED, GREEN], p["legx"]):
        leg_n += 1
        lg = "legend" if leg_n == 1 else f"legend{leg_n}"
        layout[lg] = dict(orientation="h", x=px(lx), y=py(p["legy"]), xanchor="left",
                          yanchor="middle", bgcolor="rgba(0,0,0,0)", itemwidth=30,
                          font=dict(family=FONT, size=12, color="#1a1a1a"), itemclick=False,
                          itemdoubleclick=False)
        fig.add_trace(go.Scatter(x=[None], y=[None], mode="lines", name=name,
                                 line=dict(color=col, width=3), legend=lg,
                                 xaxis="x" + sx, yaxis="y" + sx, hoverinfo="skip"))

# chart frames
shapes = []


def seg(x0, y0, x1, y1, color, w):
    shapes.append(dict(type="line", xref="paper", yref="paper", x0=px(x0), y0=py(y0),
                       x1=px(x1), y1=py(y1), line=dict(color=color, width=w)))


for y in (15, 322.5, 630.5):
    seg(9, y, 667, y, "#111", 2)
seg(10, 15, 10, 935, "#111", 2)
seg(667, 15, 667, 935, "#777", 1.3)
seg(669.8, 16, 669.8, 935, "#a0a0a0", 1.3)
seg(667, 15, 1319, 15, "#111", 2)
for y in (322.5, 630.5):
    seg(667, y, 1319, y, "#8a8a8a", 2)

layout["annotations"] = annotations
layout["shapes"] = shapes
fig.update_layout(**layout)

fig.write_html("out.html", include_plotlyjs=True, config={"displayModeBar": False},
               post_script="document.body.style.margin='0';document.body.style.padding='0';")
